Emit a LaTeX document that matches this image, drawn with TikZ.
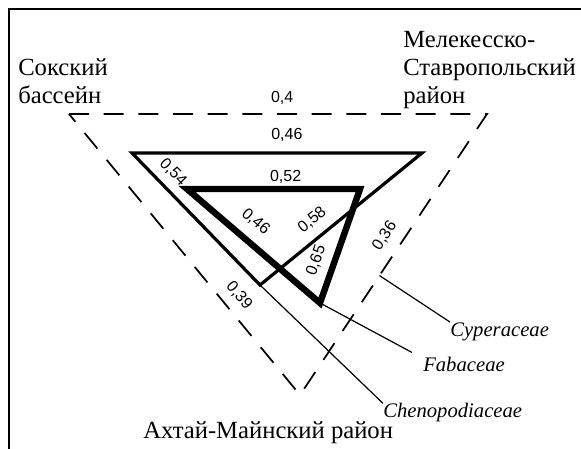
\documentclass[tikz,border=0pt]{standalone}
\usepackage{fontspec}
\setmainfont{Liberation Serif}
\newfontfamily\numfont{Liberation Sans}
\usetikzlibrary{calc}
\begin{document}
\begin{tikzpicture}[x=0.75pt,y=-0.75pt,
  frameline/.style={line width=1.9pt},
  dashtri/.style={line width=1.3pt, dash pattern=on 15pt off 11pt},
  thintri/.style={line width=2.4pt, line join=miter},
  thicktri/.style={line width=4.8pt, line join=miter},
  branch/.style={line width=0.9pt},
  val/.style={font=\numfont\fontsize{12}{14}\selectfont, inner sep=0pt, sloped, above=4pt},
  region/.style={font=\fontsize{18.5}{21}\selectfont, align=left, inner sep=0pt},
  taxon/.style={font=\itshape\fontsize{15.5}{18}\selectfont, inner sep=0pt},
]
\useasboundingbox (0,0) rectangle (581,449);
% frame
\draw[frameline] (9,449) -- (9,9) -- (581,9);

% vertices
\coordinate (A) at (69,114);
\coordinate (B) at (487,114);
\coordinate (C) at (300,395);
\coordinate (D) at (132,153);
\coordinate (E) at (422,153);
\coordinate (F) at (260,285);
\coordinate (G) at (187,189);
\coordinate (H) at (360,189);
\coordinate (K) at (320,303);

% dashed triangle
\draw[dashtri] (A) -- (B) -- (C) -- cycle;
\path (A) -- (B) node[val, pos=0.51, above=3pt] {0,4};
\path (A) -- (C) node[val, pos=0.682, above=3pt] {0,39};
\path (C) -- (B) node[val, pos=0.532, above=4.2pt] {0,36};

% thin triangle
\draw[thintri] (D) -- (E) -- (F) -- cycle;
\path (D) -- (E) node[val, pos=0.534, above=4.4pt] {0,46};
\path (D) -- (F) node[val, pos=0.23, above=3pt] {0,54};
\path (F) -- (E) node[val, pos=0.39, above=3.9pt] {0,58};

% thick triangle
\draw[thicktri] (G) -- (H) -- (K) -- cycle;
\path (G) -- (H) node[val, pos=0.57] {0,52};
\path (G) -- (K) node[val, pos=0.42, above=5.7pt] {0,46};
\path (K) -- (H) node[val, pos=0.32, above=4.1pt] {0,65};

% taxa
\node[taxon, anchor=west] (cheno) at (383,413) {Chenopodiaceae};
\node[taxon, anchor=west] (faba) at (423,364) {Fabaceae};
\node[taxon, anchor=base west] (cyper) at (450,336) {Cyperaceae};
\coordinate (cypstart) at ($(C)!0.425!(B)$);
\coordinate (fabend) at ([shift={(-11,-4)}]faba.north west);

\draw[branch] (F) -- (cheno.north west);
\draw[branch] (K) -- (fabend);
\draw[branch] (cypstart) -- (cyper.north west);

% regions (base anchor = baseline of the last line)
\node[region, anchor=base west] (sok) at (18,104) {Сокский\\бассейн};
\node[region, anchor=base west] (mel) at (403,104) {Мелекесско-\\Ставропольский\\район};
\node[region, anchor=base west] (akh) at (143,438) {Ахтай-Майнский район};
\end{tikzpicture}
\end{document}
